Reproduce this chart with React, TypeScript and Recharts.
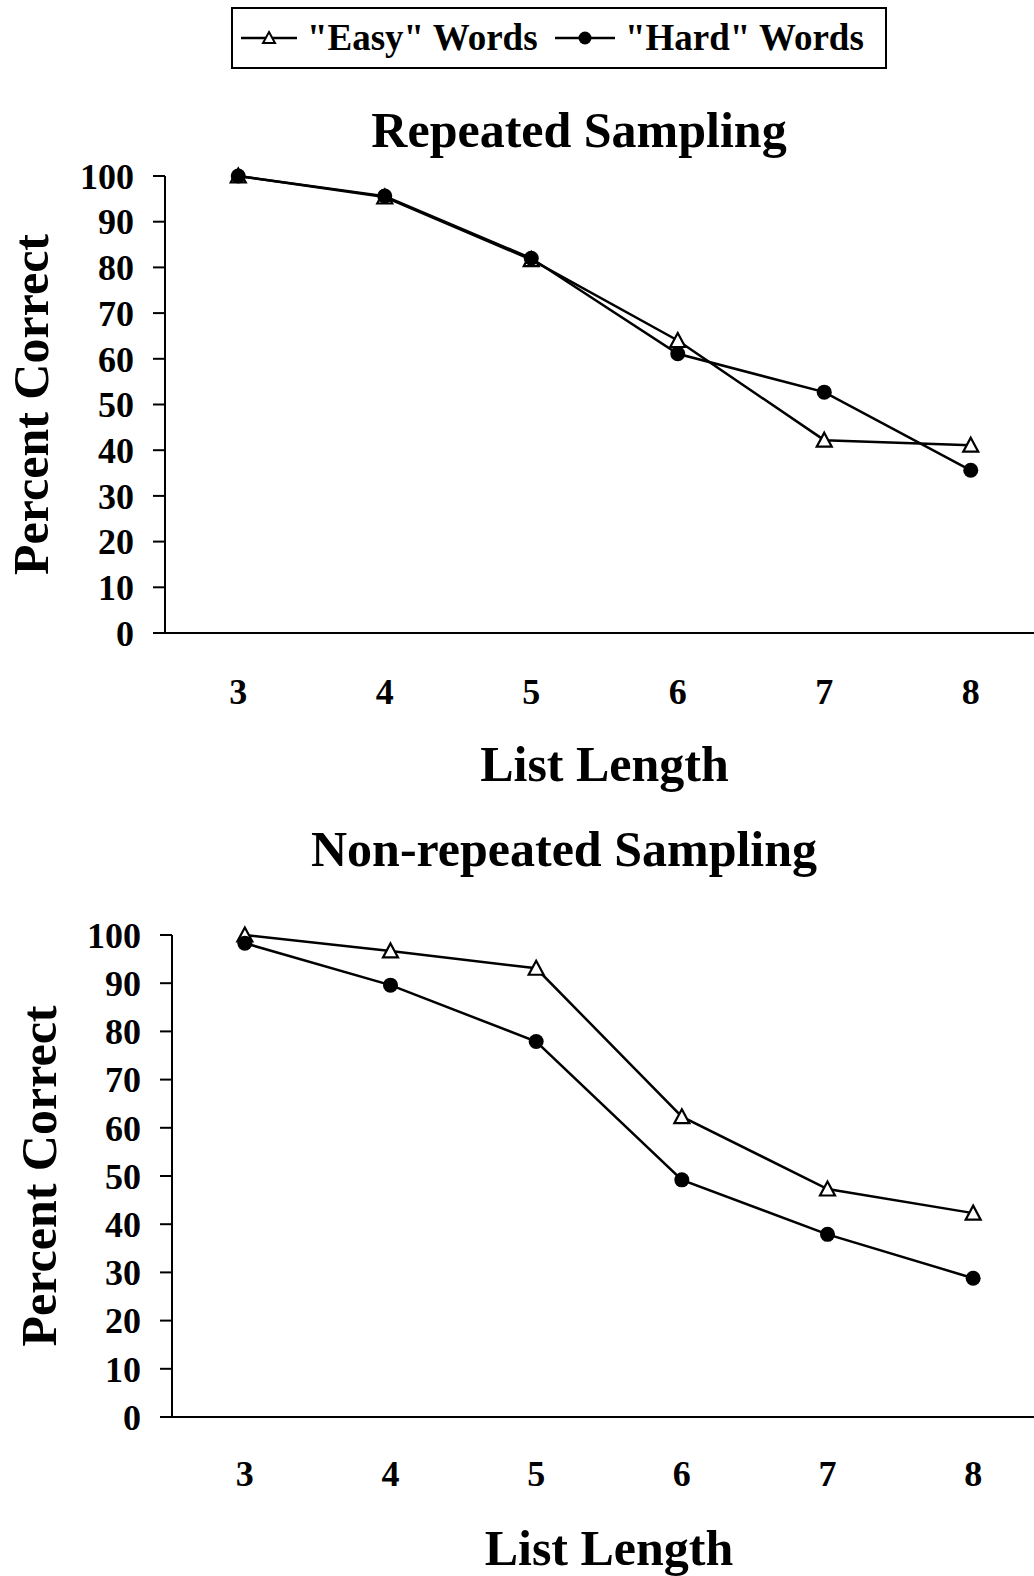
import React from 'react';
import { LineChart, Line, XAxis, YAxis } from 'recharts';

// list lengths (x categories) and y ticks
const listLengths = [3, 4, 5, 6, 7, 8];
const yTicks = [0, 10, 20, 30, 40, 50, 60, 70, 80, 90, 100];

// percent correct
const repeatedEasy = [100, 95.4, 81.7, 64, 42.2, 41.1];
const repeatedHard = [100, 95.6, 82, 61.1, 52.7, 35.6];
const nonRepeatedEasy = [100, 96.7, 93.1, 62.3, 47.3, 42.3];
const nonRepeatedHard = [98.3, 89.6, 77.9, 49.2, 37.9, 28.8];

const seriesNames = ['"Easy" Words', '"Hard" Words'];

const FONT = '"Liberation Serif", "Times New Roman", serif';

function buildData(easy: number[], hard: number[]) {
  return listLengths.map((len, i) => ({ len, easy: easy[i], hard: hard[i] }));
}

function TriangleDot(props: any) {
  const { cx, cy, index } = props;
  if (cx == null || cy == null) return <g key={`t${index}`} />;
  return (
    <path
      key={`t${index}`}
      d={`M${cx},${cy - 7.5} L${cx + 7.5},${cy + 6.5} L${cx - 7.5},${cy + 6.5} Z`}
      fill="#fff"
      stroke="#000"
      strokeWidth={2.2}
    />
  );
}

function CircleDot(props: any) {
  const { cx, cy, index } = props;
  if (cx == null || cy == null) return <g key={`c${index}`} />;
  return <circle key={`c${index}`} cx={cx} cy={cy} r={7.5} fill="#000" />;
}

interface PanelProps {
  easy: number[];
  hard: number[];
  width: number;
  height: number;
  marginTop: number;
  yAxisWidth: number;
  xAxisHeight: number;
  xTickMargin: number;
  xLabelOffset: number;
  yLabelOffset: number;
}

function Panel({ easy, hard, width, height, marginTop, yAxisWidth, xAxisHeight, xTickMargin, xLabelOffset, yLabelOffset }: PanelProps) {
  const data = buildData(easy, hard);
  const tickStyle = { fontSize: 36, fontWeight: 'bold', fill: '#000', fontFamily: FONT };
  return (
    <LineChart width={width} height={height} data={data} margin={{ top: marginTop, right: 0, bottom: 0, left: 0 }}>
      <XAxis
        dataKey="len"
        type="number"
        domain={[2.5, 8.5]}
        ticks={listLengths}
        interval={0}
        height={xAxisHeight}
        tickLine={false}
        tickSize={0}
        tickMargin={xTickMargin}
        tick={tickStyle}
        axisLine={{ stroke: '#000', strokeWidth: 2 }}
        label={{
          value: 'List Length',
          position: 'insideBottom',
          offset: xLabelOffset,
          style: { fontSize: 50, fontWeight: 'bold', fill: '#000', fontFamily: FONT },
        }}
      />
      <YAxis
        type="number"
        domain={[0, 100]}
        ticks={yTicks}
        interval={0}
        width={yAxisWidth}
        tickSize={12}
        tickMargin={19}
        tick={tickStyle}
        tickLine={{ stroke: '#000', strokeWidth: 2 }}
        axisLine={{ stroke: '#000', strokeWidth: 2 }}
        label={{
          value: 'Percent Correct',
          angle: -90,
          position: 'insideLeft',
          offset: yLabelOffset,
          style: { fontSize: 50, fontWeight: 'bold', fill: '#000', fontFamily: FONT, textAnchor: 'middle' },
        }}
      />
      <Line dataKey="easy" name={seriesNames[0]} stroke="#000" strokeWidth={2.5} dot={TriangleDot} isAnimationActive={false} />
      <Line dataKey="hard" name={seriesNames[1]} stroke="#000" strokeWidth={2.5} dot={CircleDot} isAnimationActive={false} />
    </LineChart>
  );
}

function Overlay() {
  const textStyle = { fontFamily: FONT, fontWeight: 'bold' as const, fill: '#000' };
  return (
    <svg width={1034} height={1576} style={{ position: 'absolute', left: 0, top: 0, pointerEvents: 'none' }}>
      {/* legend */}
      <rect x={232} y={8} width={654} height={60} fill="#fff" stroke="#000" strokeWidth={2} />
      <line x1={241} y1={38} x2={297} y2={38} stroke="#000" strokeWidth={2.5} />
      <path d="M269,32 L275,43 L263,43 Z" fill="#fff" stroke="#000" strokeWidth={2} />
      <text x={307} y={50} fontSize={37} {...textStyle}>{seriesNames[0]}</text>
      <line x1={555} y1={38} x2={615} y2={38} stroke="#000" strokeWidth={2.5} />
      <circle cx={585} cy={38} r={6.5} fill="#000" />
      <text x={625} y={50} fontSize={37} {...textStyle}>{seriesNames[1]}</text>
      {/* panel titles */}
      <text x={579} y={147} fontSize={50} textAnchor="middle" {...textStyle}>Repeated Sampling</text>
      <text x={564} y={866} fontSize={50} textAnchor="middle" {...textStyle}>Non-repeated Sampling</text>
    </svg>
  );
}

export default function App() {
  return (
    <div style={{ position: 'relative', width: 1034, height: 1576, overflow: 'hidden', background: '#fff' }}>
      <style>{'body{margin:0}'}</style>
      <div style={{ position: 'absolute', left: 0, top: 0 }}>
        <Panel
          easy={repeatedEasy}
          hard={repeatedHard}
          width={1044}
          height={793}
          marginTop={176}
          yAxisWidth={165}
          xAxisHeight={160}
          xTickMargin={45}
          xLabelOffset={12}
          yLabelOffset={30}
        />
      </div>
      <div style={{ position: 'absolute', left: 0, top: 800 }}>
        <Panel
          easy={nonRepeatedEasy}
          hard={nonRepeatedHard}
          width={1046}
          height={776}
          marginTop={135}
          yAxisWidth={172}
          xAxisHeight={159}
          xTickMargin={43}
          xLabelOffset={11}
          yLabelOffset={38}
        />
      </div>
      <Overlay />
    </div>
  );
}
